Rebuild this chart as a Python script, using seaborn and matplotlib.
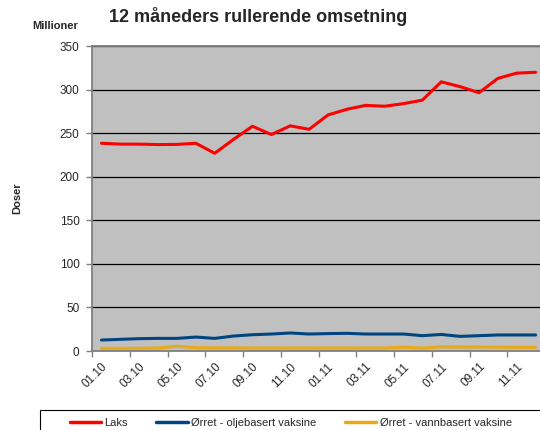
import numpy as np
import pandas as pd
import seaborn as sns
import matplotlib.pyplot as plt
from matplotlib.ticker import FixedLocator
from matplotlib.patches import Rectangle

sns.set_style("white")
plt.rcParams['font.family'] = ['Liberation Sans', 'DejaVu Sans']

# Months 01.10 .. 12.11 (24 points)
months = [f"{m:02d}.{y}" for y in (10, 11) for m in range(1, 13)]

laks = [238.5, 237.5, 237.5, 237, 237.2, 238.5, 227, 243, 258, 248.5, 258.5, 254.5,
        271, 277.5, 282, 281, 284, 288, 309, 303.5, 296.5, 313, 319, 320]
orret_olje = [12.6, 13.4, 14.2, 14.5, 14.5, 16, 14.5, 17.2, 18.7, 19.5, 20.7, 19.5,
              20, 20.3, 19.5, 19.5, 19.5, 17.6, 19, 16.8, 17.6, 18.4, 18.4, 18.4]
orret_vann = [3.1, 3.1, 3.1, 3.4, 5.5, 3.8, 3.6, 3.6, 3.4, 3.4, 3.4, 3.4,
              3.4, 3.4, 3.4, 3.4, 4.4, 3.4, 4.8, 4.6, 4.6, 4.4, 4.2, 4.2]

series = ["Laks", "Ørret - oljebasert vaksine", "Ørret - vannbasert vaksine"]
palette = {series[0]: "#FF0000", series[1]: "#00457F", series[2]: "#E8A917"}

df = pd.DataFrame({
    "idx": np.tile(np.arange(len(months)), 3),
    "verdi": laks + orret_olje + orret_vann,
    "serie": np.repeat(series, len(months)),
})

fig = plt.figure(figsize=(5.4, 4.3), dpi=100)
ax = fig.add_axes([0.1704, 0.1837, 0.839, 0.709])
ax.set_facecolor("#C0C0C0")

sns.lineplot(data=df, x="idx", y="verdi", hue="serie", palette=palette,
             linewidth=2.2, ax=ax, legend=False)

ax.set_xlim(-0.5, len(months) - 0.5)
ax.set_ylim(0, 350)
ax.set_yticks(range(0, 351, 50))
ax.yaxis.grid(True, color="black", linewidth=0.9)
ax.set_axisbelow(True)

ax.set_xticks(range(0, len(months), 2))
ax.set_xticklabels(months[::2], rotation=45, ha="right", rotation_mode="anchor")
ax.xaxis.set_minor_locator(FixedLocator(np.arange(-0.5, len(months), 2)))
ax.tick_params(axis="x", which="major", length=0, labelsize=8.5, pad=7)
ax.tick_params(axis="x", which="minor", length=4, width=1, color="#808080", direction="out")
ax.tick_params(axis="y", length=4, width=1, color="#808080", direction="out", labelsize=8.5, pad=5)
ax.xaxis.set_tick_params(bottom=True, which="minor")
ax.yaxis.set_tick_params(left=True)

for s in ["top", "left", "bottom"]:
    ax.spines[s].set_color("#808080")
    ax.spines[s].set_linewidth(1.3)
ax.spines["right"].set_visible(False)

ax.set_xlabel("")
ax.set_ylabel("Doser", fontsize=8, fontweight="bold", labelpad=27)

fig.text(0.478, 0.962, "12 måneders rullerende omsetning", ha="center", va="center",
         fontsize=13, fontweight="bold")
fig.text(0.102, 0.94, "Millioner", ha="center", va="center", fontsize=8, fontweight="bold")

# legend box (runs off the right and bottom edge as in the original)
fig.patches.append(Rectangle((40 / 540, -0.05), 0.98, 0.05 + 20 / 430,
                             transform=fig.transFigure, facecolor="white",
                             edgecolor="black", linewidth=0.8))
handles = [plt.Line2D([], [], color=palette[s], linewidth=2.5) for s in series]
leg = fig.legend(handles, series, loc="center left", bbox_to_anchor=(0.129, 7 / 430),
                 ncol=3, fontsize=8, frameon=False, handlelength=2.8,
                 columnspacing=2.6, borderpad=0.0, borderaxespad=0.0, handletextpad=0.3)

plt.savefig("out.png", dpi=100)
